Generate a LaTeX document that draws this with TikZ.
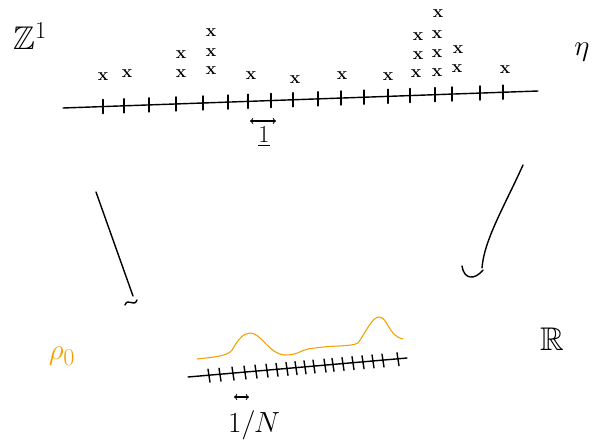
\documentclass[tikz,border=0pt]{standalone}
\usepackage{amssymb}
\definecolor{pen}{HTML}{F5A000}
\tikzset{
  sample/.style={inner sep=0pt, font=\fontsize{15}{15}\selectfont\bfseries},
  stroke/.style={line width=1.2pt, line cap=round, line join=round},
  label/.style={inner sep=0pt, font=\fontsize{28}{28}\selectfont}
}
\begin{document}
\begin{tikzpicture}[x=0.03cm, y=-0.03cm]
	\useasboundingbox (0,0) rectangle (592,443);
	% lattice Z^1
	\node[label] (zl) at (30,36) {$\mathbb{Z}^{1}$};
	\node[label] (eta) at (582,52) {$\eta$};
	\coordinate (za) at (63,108);
	\coordinate (zb) at (538,91);
	\draw[stroke] (za) -- (zb);
	\foreach \x in {103,124,149,176,203,228,248,271,293,318,341,364,388,410,435,452,480,503}
		\draw[stroke] (\x,{108-(\x-63)*0.036-7}) -- ++(0,14);
	\foreach \x/\y in {103/77,127/74,181/74,181/55,211/71,211/53,211/33,251/76,295/80,
		342/76,388/77,416/74,418/56,418/37,437/73,437/54,437/35,438/14,457/69,458/50,505/70}
		\node[sample] at (\x,\y) {x};
	\node[inner sep=0pt] (one) at (264,137) {\fontsize{20}{20}\selectfont$\underline{1}$};
	\draw[line width=0.9pt, <->] (250,121) -- (276,121);
	% continuum R
	\node[label, text=pen] (rho) at (62,356) {$\rho_{0}$};
	\node[label] (re) at (552,339) {$\mathbb{R}$};
	\coordinate (ra) at (188,377);
	\coordinate (rb) at (407,358);
	\draw[stroke] (ra) -- (rb);
	\foreach \x in {209,220,233,245,256,267,277,287,296,305,314,325,333,343,353,363,373,383,398}
		\draw[stroke] ({\x-1},{377-(\x-188)*0.087-6}) -- ++(2,13);
	\draw[pen, line width=0.9pt] (197,359) .. controls (215,357) and (228,356) .. (232,350)
		.. controls (238,340) and (243,333) .. (250,333)
		.. controls (262,333) and (268,354) .. (285,355)
		.. controls (300,355) and (300,349) .. (315,348)
		.. controls (335,345) and (350,347) .. (358,343)
		.. controls (366,332) and (372,317) .. (379,317)
		.. controls (388,317) and (388,336) .. (403,339);
	\draw[line width=0.9pt, <->] (234,397) -- (249,397);
	\node[inner sep=0pt] (step) at (254,425) {\fontsize{24}{24}\selectfont$1/N$};
	% maps
	\coordinate (la) at (96,192);
	\coordinate (lb) at (133,296);
	\draw[stroke] (la) -- (lb);
	\draw[stroke] (125,305) .. controls (128,297) and (134,308) .. (137,300);
	\coordinate (pa) at (523,165);
	\coordinate (pb) at (482,268);
	\draw[stroke] (pa) .. controls (505,205) and (484,240) .. (pb);
	\draw[stroke] (462,266) .. controls (464,280) and (475,280) .. (483,270);
\end{tikzpicture}
\end{document}
